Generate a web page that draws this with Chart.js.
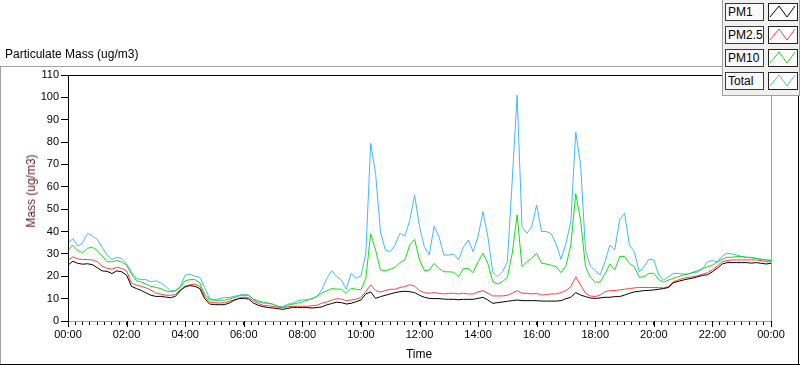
<!DOCTYPE html>
<html lang="en">
<head>
<meta charset="UTF-8">
<title>Particulate Mass</title>
<style>
  body { margin: 0; background: #fff; font-family: "Liberation Sans", Arial, sans-serif; }
  #wrap { position: relative; width: 800px; height: 365px; overflow: hidden; }
  #myChart { position: absolute; left: 0; top: 0; }
  .title { position: absolute; left: 5px; top: 47px; font-size: 12px; color: #000; }
  .ytitle { position: absolute; left: 31px; top: 191px; font-size: 12px; color: #601818; white-space: nowrap;
            transform: translate(-50%, -50%) rotate(-90deg); }
  .xtitle { position: absolute; left: 419px; top: 354px; font-size: 12px; color: #000; transform: translate(-50%, -50%); }
  #legend { position: absolute; left: 722px; top: 0; width: 78px; height: 96px; box-sizing: border-box; background: #f0f0f0;
            border-left: 1px solid #a0a0a0; border-bottom: 1px solid #a0a0a0; border-right: 1px solid #a0a0a0; }
  .lab { position: absolute; left: 2px; width: 39px; height: 18px; box-sizing: border-box; border: 1px solid #3a3a3a;
         background: #fafafa; font-size: 12px; line-height: 16px; padding-left: 2px; color: #000; }
  .sw { position: absolute; left: 45px; width: 30px; height: 18px; box-sizing: border-box; border: 1px solid #222; background: #fff; }
  .sw svg { position: absolute; left: 0; top: 0; }
</style>
</head>
<body>
<div id="wrap">
  <canvas id="myChart" width="800" height="365"></canvas>
  <div class="title">Particulate Mass (ug/m3)</div>
  <div class="ytitle">Mass (ug/m3)</div>
  <div class="xtitle">Time</div>
  <div id="legend"></div>
</div>

<script src="https://cdn.jsdelivr.net/npm/chart.js"></script>
<script>
  // one sample every 10 minutes, 00:00 -> 24:00
  const stepMinutes = 10;
  const hourLabels = ['00:00', '02:00', '04:00', '06:00', '08:00', '10:00', '12:00', '14:00', '16:00', '18:00', '20:00', '22:00', '00:00'];
  const seriesNames = ['PM1', 'PM2.5', 'PM10', 'Total'];
  const seriesColors = ['#000000', '#ff4040', '#14dc14', '#40b8ff'];

  const pm1 = [25, 26.7, 25.8, 25.4, 25.6, 25.2, 23.8, 22.4, 22.2, 21.2,
    22.4, 22, 20.5, 15.5, 14.5, 13.7, 12.5, 11.5, 11, 11,
    10.7, 10.4, 11, 13.5, 15.5, 15.8, 15.5, 14.5, 10, 7.6,
    7.3, 7.3, 7.3, 8, 9.2, 10, 10.1, 9.8, 8, 7,
    6.4, 6, 5.8, 5.5, 5.2, 5.6, 6.1, 6.1, 6, 6,
    5.8, 6, 6.3, 7.2, 7.8, 8.4, 8.2, 7.6, 7.9, 8.6,
    9.4, 12.1, 13, 10.1, 10.9, 11.5, 12.1, 12.7, 13.1, 13.3,
    13.1, 12.7, 11.5, 10.6, 10.1, 10, 10, 9.8, 9.7, 9.7,
    9.5, 9.7, 9.7, 9.7, 10.1, 10.6, 9.4, 7.9, 8.2, 8.5,
    8.8, 9.1, 9.4, 9.1, 9.1, 9.1, 9.1, 8.9, 8.9, 8.9,
    8.9, 9.1, 10, 10.6, 12.7, 11.6, 10.9, 10.3, 10.1, 10.3,
    10.6, 10.6, 10.9, 10.9, 11.6, 12.4, 13, 13.3, 13.6, 13.7,
    13.9, 14.2, 14.5, 15, 17.1, 17.7, 18.3, 18.8, 19.2, 19.8,
    20.4, 20.7, 22, 23.6, 25.5, 26.1, 26.1, 26.1, 26.1, 26.1,
    25.9, 26.1, 25.8, 25.5, 25.8];

  const pm25 = [27.2, 28.7, 27.8, 27.5, 27.5, 27.3, 26.5, 24.5, 23.5, 23.2,
    24, 23.5, 22.5, 17, 16, 15.5, 14.8, 13.8, 12.5, 12,
    11.5, 11.5, 11.8, 14, 15, 16.2, 16.5, 15.5, 11, 8.5,
    8.2, 8, 8.2, 8.8, 9.5, 10.2, 10.7, 10.5, 9, 7.8,
    7, 6.8, 6.5, 6.2, 6, 6.3, 6.6, 6.6, 6.6, 6.6,
    6.8, 7, 8, 8.5, 9.3, 10, 9.8, 9.1, 9.4, 9.7,
    10.6, 13.1, 16.2, 13.6, 13, 13.6, 14.2, 14.2, 15, 15.4,
    16.2, 15.6, 13.6, 12.7, 12.4, 12.7, 12.4, 12.1, 12.4, 12.4,
    12.1, 12.4, 12.1, 12.1, 13, 13.6, 12.4, 11.2, 11.2, 11.2,
    11.5, 12.4, 13.6, 12.4, 12.4, 12.1, 12.4, 11.6, 11.8, 12.1,
    12.1, 12.7, 13.6, 15.4, 19.8, 16.1, 12.4, 11.2, 10.9, 11.6,
    13.1, 13.6, 13.6, 13.9, 14.2, 14.5, 14.8, 15, 15, 15,
    15, 14.9, 14.8, 15.4, 17.6, 18.3, 19.1, 19.5, 19.8, 20.3,
    20.9, 21.6, 22.8, 24.6, 26.5, 27, 27.3, 27.3, 27.3, 27.3,
    27.3, 27.3, 27, 26.5, 26.5];

  const pm10 = [31.6, 33.9, 31.5, 30.5, 32.5, 33, 31.5, 29, 26.5, 26.5,
    27, 26.4, 25, 21, 18, 17.5, 16.5, 15.5, 15, 14.5,
    13.5, 13, 13.5, 15, 18, 18.5, 18.5, 17, 12, 9.5,
    9.3, 9.3, 9.3, 9.8, 10.5, 11.2, 11.5, 11.5, 9.8, 9,
    8.3, 8, 7.5, 6.5, 6, 7, 7.5, 8, 8.5, 9.3,
    10, 11, 12.5, 13.5, 14.5, 14.3, 14.2, 12.4, 14.6, 14.2,
    13.9, 19, 39, 31.8, 22.8, 22.5, 23.1, 24, 26.1, 27.3,
    34, 36.5, 27.3, 22.5, 22.8, 25.8, 23.5, 22, 22, 21.8,
    19.8, 23.4, 23.5, 21.6, 26.5, 30.3, 25.8, 17.6, 16.5, 17.6,
    19.5, 30.3, 47.4, 24.3, 26.5, 28, 30.3, 25.8, 25.5, 24.9,
    24.3, 21.6, 24.6, 34, 57, 45, 24.3, 19.5, 17.4, 17.4,
    21, 25.5, 22.8, 28.8, 28.8, 25.8, 24.3, 19.5, 19.8, 21.3,
    21.3, 18.6, 17.4, 18.3, 19.1, 19.8, 20.6, 21, 21.8, 22.5,
    23.4, 24.3, 24.9, 26.4, 27.6, 28.5, 28.5, 28.8, 28.8, 28.5,
    28.2, 28, 27.6, 27.3, 27];

  const total = [34.6, 36.9, 33.5, 35, 39.2, 38, 36.5, 33, 29.5, 27.5,
    28.5, 28, 25.5, 22, 19, 18.5, 18.5, 17.5, 18, 17,
    15.5, 13.5, 13.5, 15.5, 20.5, 21, 20, 19.5, 15, 10,
    9.5, 10, 10.5, 10.5, 11, 11.5, 12, 11.5, 9.5, 8.5,
    8, 8, 7.5, 6.5, 6.5, 7.5, 8, 9, 9.5, 9.5,
    10, 11, 14, 19, 22.5, 20, 18.3, 14.2, 21.3, 19.1,
    20.1, 30, 79.5, 66, 40, 31.8, 31, 34, 39.2, 38,
    45, 56.3, 42.2, 33.2, 29.5, 42.5, 37.7, 29.5, 29.5, 30,
    27.3, 33.2, 36.2, 31, 37.7, 48.9, 37.7, 22, 19.8, 22,
    26.5, 63, 101, 42, 39.2, 42.2, 51.9, 40, 40, 39,
    34.4, 27.6, 34.7, 44.4, 84.5, 70, 31.8, 24.6, 22.5, 20.6,
    26.5, 34, 31.8, 45.2, 48.2, 34, 31, 22, 24.3, 27.6,
    27.3, 20.6, 18.3, 19.8, 21.3, 21.3, 21, 21, 21.6, 21.9,
    23.5, 26.5, 27, 26.5, 29, 30.3, 30, 29.5, 28.8, 28.5,
    28.5, 28, 27.6, 27.3, 27.3];

  const allSeries = [pm1, pm25, pm10, total];

  // legend boxes (html)
  const legend = document.getElementById('legend');
  seriesNames.forEach(function (name, i) {
    const top = 3 + i * 23;
    legend.insertAdjacentHTML('beforeend',
      '<div class="lab" style="top:' + top + 'px">' + name + '</div>' +
      '<div class="sw" style="top:' + top + 'px"><svg width="28" height="16">' +
      '<polyline points="1,13 10,2 18,13 26,2" fill="none" stroke="' + seriesColors[i] + '" stroke-width="1"/></svg></div>');
  });

  // frame lines, longer major ticks
  function seg(ctx, color, x1, y1, x2, y2) {
    ctx.strokeStyle = color;
    ctx.beginPath();
    ctx.moveTo(x1, y1);
    ctx.lineTo(x2, y2);
    ctx.stroke();
  }

  const framePlugin = {
    id: 'frame',
    afterDraw(chart) {
      const ctx = chart.ctx;
      const a = chart.chartArea;
      const xs = chart.scales.x;
      ctx.save();
      ctx.lineWidth = 1;
      seg(ctx, '#a0a0a0', 0, 66.5, 722, 66.5);
      seg(ctx, '#a0a0a0', 0.5, 66, 0.5, 364);
      seg(ctx, '#000', 0, 364.5, 800, 364.5);
      seg(ctx, '#000', 798.5, 95, 798.5, 365);
      seg(ctx, '#000', a.left, a.top + 0.5, 722, a.top + 0.5);
      seg(ctx, '#a0a0a0', a.right + 0.5, a.top, a.right + 0.5, a.bottom);
      seg(ctx, '#000', a.left + 0.5, a.top, a.left + 0.5, a.bottom + 5);
      for (let v = 0; v <= 1440; v += 120) {
        const px = Math.round(xs.getPixelForValue(v)) + 0.5;
        seg(ctx, '#000', px, a.bottom, px, a.bottom + 6);
      }
      ctx.restore();
    }
  };

  Chart.defaults.font.family = '"Liberation Sans", Arial, sans-serif';
  Chart.defaults.font.size = 11;
  Chart.defaults.color = '#000';

  const ctx = document.getElementById('myChart');
  const myChart = new Chart(ctx, {
    type: 'line',
    data: {
      datasets: allSeries.map(function (values, i) {
        return {
          label: seriesNames[i],
          data: values.map(function (v, k) { return { x: k * stepMinutes, y: v }; }),
          borderColor: seriesColors[i],
          borderWidth: 1,
          pointRadius: 0,
          tension: 0
        };
      })
    },
    options: {
      responsive: false,
      animation: false,
      layout: { padding: { top: 75, right: 29, left: 0, bottom: 0 } },
      plugins: { legend: { display: false }, tooltip: { enabled: false } },
      scales: {
        x: {
          type: 'linear',
          min: 0,
          max: 1440,
          afterFit: function (scale) { scale.height = 44; },
          border: { display: true, color: '#a0a0a0' },
          grid: { drawOnChartArea: false, tickLength: 4, tickColor: '#000' },
          ticks: {
            stepSize: 15,
            autoSkip: false,
            maxRotation: 0,
            padding: 3,
            callback: function (v) { return v % 120 === 0 ? hourLabels[v / 120] : ''; }
          }
        },
        y: {
          min: 0,
          max: 110,
          afterFit: function (scale) { scale.width = 68; },
          border: { display: true, color: '#000' },
          grid: { drawOnChartArea: false, tickLength: 7, tickColor: '#000' },
          ticks: { stepSize: 10, padding: 2 }
        }
      }
    },
    plugins: [framePlugin]
  });
</script>
</body>
</html>
